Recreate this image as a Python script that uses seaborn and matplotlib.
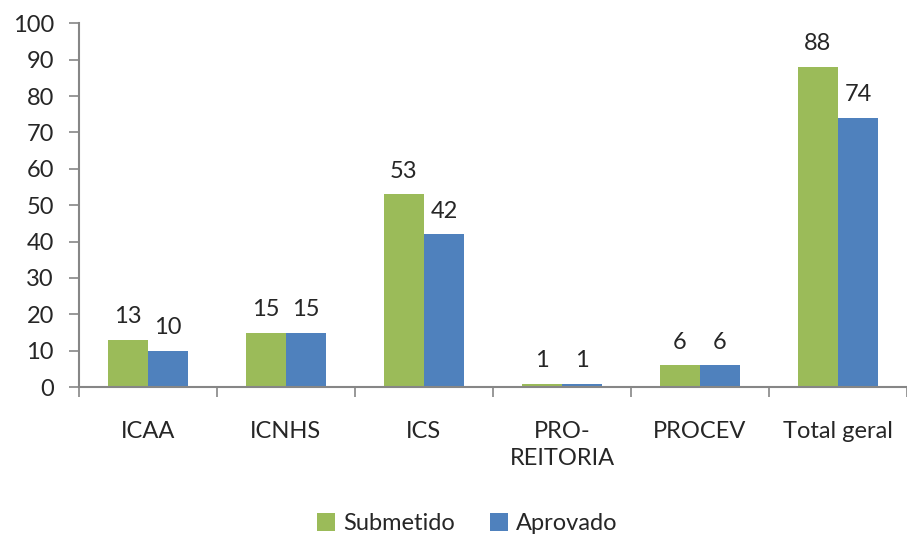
import matplotlib
matplotlib.use("Agg")
import matplotlib.pyplot as plt
import seaborn as sns
import pandas as pd
import numpy as np

categories = ["ICAA", "ICNHS", "ICS", "PRO-\nREITORIA", "PROCEV", "Total geral"]
submetido = [13, 15, 53, 1, 6, 88]
aprovado = [10, 15, 42, 1, 6, 74]
series_names = ["Submetido", "Aprovado"]
colors = ["#9BBB59", "#4F81BD"]

df = pd.DataFrame({
    "cat": categories * 2,
    "val": submetido + aprovado,
    "serie": [series_names[0]] * len(categories) + [series_names[1]] * len(categories),
})

sns.set_style("white")
plt.rcParams['font.family'] = ['Lato', 'DejaVu Sans']

FS = 17
fig = plt.figure(figsize=(9.07, 5.4), dpi=100)
ax = fig.add_axes([0.087, 0.283, 0.913, 0.674])
sns.barplot(data=df, x="cat", y="val", hue="serie", palette=colors, width=0.58,
            ax=ax, saturation=1, edgecolor="none")

for cont in ax.containers:
    ax.bar_label(cont, fmt="%d", padding=9, fontsize=FS)

ax.set_ylim(0, 100)
ax.set_xlim(-0.5, len(categories) - 0.5)
ax.set_yticks(range(0, 101, 10))
ax.set_xlabel("")
ax.set_ylabel("")
ax.tick_params(axis="y", labelsize=FS, length=7, width=1.2, color="#868686", direction="out", left=True, pad=11)
ax.tick_params(axis="x", which="major", labelsize=FS, length=0, pad=24)
ax.set_xticks(np.arange(-0.5, len(categories), 1), minor=True)
ax.tick_params(axis="x", which="minor", length=7, width=1.2, color="#868686", bottom=True, direction="out")
for lbl in ax.get_xticklabels():
    lbl.set_linespacing(1.4)
for s in ["top", "right"]:
    ax.spines[s].set_visible(False)
for s in ["left", "bottom"]:
    ax.spines[s].set_color("#868686")
    ax.spines[s].set_linewidth(1.5)

if ax.get_legend() is not None:
    ax.get_legend().remove()
handles, labels = ax.get_legend_handles_labels()
fig.legend(handles, labels, loc="center", bbox_to_anchor=(0.515, 0.03), ncol=2, frameon=False,
           fontsize=FS, handlelength=0.75, handleheight=0.75, handletextpad=0.35,
           columnspacing=1.5, borderpad=0)

fig.savefig("out.png", dpi=100)
